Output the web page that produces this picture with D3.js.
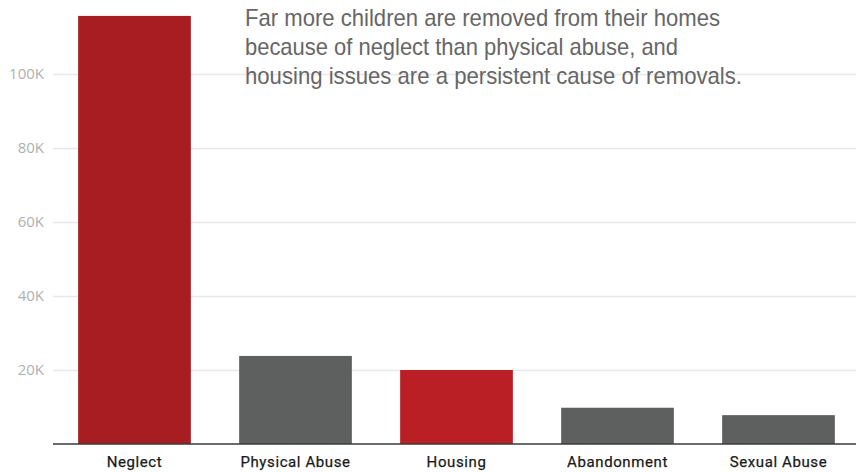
<!DOCTYPE html>
<html><head><meta charset="utf-8">
<script src="https://cdn.jsdelivr.net/npm/d3@7"></script>
<style>
html,body{margin:0;padding:0;background:#fff;}
svg{display:block;}
</style></head>
<body>
<script>
const categories = ["Neglect", "Physical Abuse", "Housing", "Abandonment", "Sexual Abuse"];
const values = [115700, 23800, 20000, 9800, 7800];
const barColors = ["#a81d22", "#5e5f5f", "#b91f24", "#5e5f5f", "#5e5f5f"];
const yTicks = [20000, 40000, 60000, 80000, 100000];
const yTickLabels = ["20K", "40K", "60K", "80K", "100K"];
const annotation = [
  "Far more children are removed from their homes",
  "because of neglect than physical abuse, and",
  "housing issues are a persistent cause of removals."
];

const W = 856, H = 472;
const svg = d3.select("body").append("svg").attr("width", W).attr("height", H);

const y = d3.scaleLinear().domain([0, 100000]).range([444, 74]);
const x = d3.scaleBand().domain(categories).range([54, 859]).paddingInner(0.3).paddingOuter(0.15);

// gridlines
const yAxis = d3.axisLeft(y).tickValues(yTicks).tickFormat((d,i)=>yTickLabels[i]).tickSize(-(W-53)).tickPadding(9);
const gy = svg.append("g").attr("transform","translate(53,0)").call(yAxis);
gy.select(".domain").remove();
gy.selectAll(".tick line").attr("stroke","#e8e8e8").attr("stroke-width",1.5);
gy.selectAll(".tick text").attr("fill","#b0b0b0").attr("font-family","'Open Sans', Roboto, sans-serif").attr("font-size","15px");

// annotation
const ann = svg.append("g");
ann.selectAll("text").data(annotation).join("text")
  .attr("x", 245)
  .attr("y", (d,i)=>26 + i*29)
  .attr("font-family", "'Liberation Sans Narrow', 'Liberation Sans', sans-serif")
  .attr("font-size", "24px")
  .attr("fill", "#666666")
  .attr("textLength", (d,i)=>[475, 433, 497][i])
  .attr("lengthAdjust","spacingAndGlyphs")
  .text(d=>d);

// bars
svg.append("g").selectAll("rect").data(categories).join("rect")
  .attr("x", d=>x(d))
  .attr("width", x.bandwidth())
  .attr("y", (d,i)=>y(values[i]))
  .attr("height", (d,i)=>y(0)-y(values[i]))
  .attr("fill", (d,i)=>barColors[i]);

// x axis
const xAxis = d3.axisBottom(x).tickSize(0).tickPadding(12);
const gx = svg.append("g").attr("transform","translate(0,444)").call(xAxis);
gx.select(".domain").attr("d", `M53,0H${W}`).attr("stroke","#3a3a3a").attr("stroke-width",1.5);
gx.selectAll(".tick text").attr("fill","#1a1a1a").attr("font-family","Roboto, 'Open Sans', sans-serif").attr("font-size","15px").attr("letter-spacing","0.6px").attr("stroke","#1a1a1a").attr("stroke-width",0.25);
</script>
</body></html>
